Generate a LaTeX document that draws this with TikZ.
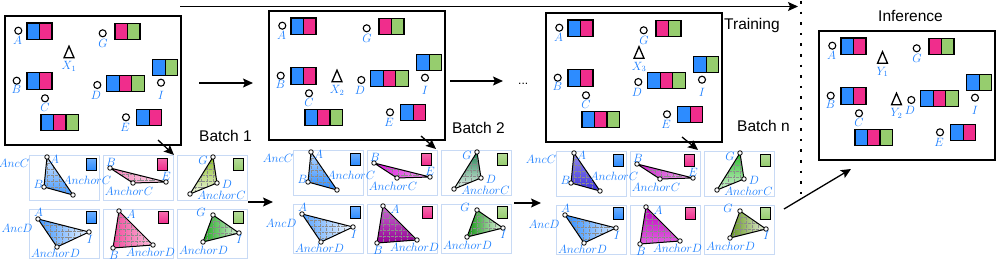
\documentclass[tikz,border=0pt]{standalone}
\usepackage{fontspec}
\newfontfamily\arialf{Liberation Sans}
\usetikzlibrary{arrows.meta}
\definecolor{cblue}{RGB}{45,140,255}
\definecolor{cpink}{RGB}{240,45,140}
\definecolor{cgreen}{RGB}{150,205,110}
\definecolor{lblue}{RGB}{25,125,255}
\definecolor{frm}{RGB}{200,218,245}
\definecolor{yg}{RGB}{140,190,40}
\definecolor{gA}{RGB}{30,170,30}
\definecolor{mgA}{RGB}{220,20,220}
\definecolor{mgB}{RGB}{240,170,240}
\definecolor{teal2}{RGB}{30,130,80}
\definecolor{puA}{RGB}{200,110,210}
\definecolor{puB}{RGB}{150,0,150}
\definecolor{gB}{RGB}{20,150,20}
\definecolor{slA}{RGB}{150,140,240}
\definecolor{slB}{RGB}{60,50,220}
\definecolor{mgC}{RGB}{200,30,200}
\definecolor{mgD}{RGB}{240,180,240}
\definecolor{gC}{RGB}{40,190,40}
\definecolor{mgE}{RGB}{190,0,190}
\definecolor{mgF}{RGB}{225,100,225}
\definecolor{ol}{RGB}{100,150,30}
\tikzset{
 panelbox/.style={draw, line width=1.3pt, minimum width=176pt, minimum height=129pt, inner sep=0pt},
 dot/.style={circle, draw, line width=1.1pt, minimum size=7pt, inner sep=0pt, fill=white},
 lbl/.style={text=lblue, inner sep=0pt, font=\fontsize{11.5}{13}\selectfont},
 tlbl/.style={text=lblue, inner sep=0pt, font=\fontsize{11.5}{13}\selectfont},
 cell/.style={draw, line width=1.2pt, minimum width=12.5pt, minimum height=16.5pt, inner sep=0pt},
 tframe/.style={draw=frm, line width=1pt, inner sep=0pt, minimum width=70pt},
 sq/.style={draw, line width=1pt, minimum width=10pt, minimum height=12pt, inner sep=0pt},
 vtx/.style={circle, draw, fill=white, line width=0.8pt, minimum size=4.5pt, inner sep=0pt},
 triedge/.style={line width=1pt, line join=round},
 gridln/.style={densely dotted, black!45, line width=0.35pt},
 arr/.style={line width=1.3pt, -{Stealth[length=10pt,width=9pt,inset=2pt]}},
 btxt/.style={font=\arialf\fontsize{15.5}{18}\selectfont, inner sep=0pt},
 marker/.style={line width=1.3pt, line join=miter},
}
\newcommand\grp[4]{\foreach \c [count=\k from 0] in {#4} {\node[cell, fill=\c] (#1\k) at ({#2+6.25+12.5*\k},{#3+8.25}) {};}}
\newcommand\pnt[6]{\node[dot] (#1) at (#2,#3) {}; \node[lbl] (#1l) at (#5,#6) {$#4$};}
\newcommand\panel[3]{%
\begin{scope}[shift={(#2,#3)}]
 \node[panelbox] (#1box) at (93,80.5) {};
 \grp{#1gA}{27}{23}{cblue,cpink}
 \grp{#1gG}{115}{23.3}{cpink,cgreen}
 \grp{#1gI}{152.7}{59.3}{cblue,cgreen}
 \grp{#1gB}{27}{72.7}{cblue,cpink}
 \grp{#1gD}{106.7}{75.3}{cblue,cpink,cgreen}
 \grp{#1gC}{41}{114.3}{cblue,cpink,cgreen}
 \grp{#1gE}{136.7}{109.3}{cblue,cpink}
 \pnt{#1A}{18.3}{30.7}{A}{17.5}{40.5}
 \pnt{#1G}{102.7}{33.3}{G}{103}{43}
 \pnt{#1B}{16.7}{80.7}{B}{16.5}{89.5}
 \pnt{#1D}{97.3}{85}{D}{96}{95.5}
 \pnt{#1I}{161}{82.7}{I}{161}{95}
 \pnt{#1C}{45}{98.3}{C}{45}{107.5}
 \pnt{#1E}{126}{117.3}{E}{125}{127.7}
\end{scope}}
\newcommand\mk[4]{%
 \coordinate (#1) at (#2,#3);
 \draw[marker] (#2-5,#3+5.8) -- (#2,#3-5.8) -- (#2+5,#3+5.8) -- cycle;
 \node[lbl] (#1l) at (#2,#3+14.5) {$#4$};}
\newcommand\tri[5]{%
 \coordinate (#1a) at #2; \coordinate (#1b) at #3; \coordinate (#1c) at #4;
 \begin{scope}
  \clip (#1a) -- (#1b) -- (#1c) -- cycle;
  \shade[#5] (#1a) -- (#1b) -- (#1c) -- cycle;
  \draw[gridln, step=6pt, shift={#2}] (-45,-45) grid (45,45);
 \end{scope}
 \draw[triedge] (#1a) -- (#1b) -- (#1c) -- cycle;
 \node[vtx] (#1va) at (#1a) {}; \node[vtx] (#1vb) at (#1b) {}; \node[vtx] (#1vc) at (#1c) {};}
\newcommand\tlab[4]{\node[tlbl] (#1) at (#2,#3) {$#4$};}
\newcommand\tgroup[9]{%
\begin{scope}[shift={(#2,#3)}]
 \node[tframe, minimum height=45pt] (#1f1) at (64,177.5) {};
 \node[tframe, minimum height=45pt] (#1f2) at (138,177.5) {};
 \node[tframe, minimum height=45pt] (#1f3) at (212,177.5) {};
 \node[tframe, minimum height=49pt] (#1f4) at (64,233.5) {};
 \node[tframe, minimum height=49pt] (#1f5) at (138,233.5) {};
 \node[tframe, minimum height=49pt] (#1f6) at (212,233.5) {};
 \tri{#1t1}{(47,157)}{(44,187)}{(73,195)}{#4}
 \tri{#1t2}{(110,168)}{(133,183)}{(166,182)}{#5}
 \tri{#1t3}{(213,157)}{(217,183)}{(190,194)}{#6}
 \tri{#1t4}{(38,219)}{(89,232)}{(57,247)}{#7}
 \tri{#1t5}{(119,211)}{(113,248)}{(153,245)}{#8}
 \tri{#1t6}{(213,215)}{(239,233)}{(203,242)}{#9}
 \node[sq, top color=cblue!70, bottom color=cblue] (#1s1) at (91,164) {};
 \node[sq, top color=cpink!70, bottom color=cpink] (#1s2) at (162.5,164) {};
 \node[sq, top color=cgreen!70, bottom color=cgreen] (#1s3) at (238,164) {};
 \node[sq, top color=cblue!70, bottom color=cblue] (#1s4) at (91,217.5) {};
 \node[sq, top color=cpink!70, bottom color=cpink] (#1s5) at (163,217.5) {};
 \node[sq, top color=cgreen!70, bottom color=cgreen] (#1s6) at (238,217.5) {};
 \tlab{#1ac}{14}{163}{AncC}
 \tlab{#1ad}{17}{228}{AncD}
 \tlab{#1l1a}{54.5}{159}{A}
 \tlab{#1l1b}{38.5}{184}{B}
 \tlab{#1l1c}{87}{180}{AnchorC}
 \tlab{#1l2b}{111}{162.5}{B}
 \tlab{#1l2e}{166}{176}{E}
 \tlab{#1l2c}{129}{191}{AnchorC}
 \tlab{#1l3g}{203}{160.5}{G}
 \tlab{#1l3d}{227}{184.5}{D}
 \tlab{#1l3c}{221.5}{195}{AnchorC}
 \tlab{#1l4a}{38.5}{212}{A}
 \tlab{#1l4i}{90}{239}{I}
 \tlab{#1l4d}{55.5}{253}{AnchorD}
 \tlab{#1l5a}{131}{214.5}{A}
 \tlab{#1l5b}{114}{255}{B}
 \tlab{#1l5d}{150.5}{252}{AnchorD}
 \tlab{#1l6g}{201}{212.5}{G}
 \tlab{#1l6i}{239.5}{239}{I}
 \tlab{#1l6d}{203.5}{250}{AnchorD}
\end{scope}}
\begin{document}
\begin{tikzpicture}[x=1pt,y=-1pt]
\useasboundingbox (0,0) rectangle (997,262);
% panels
\panel{P}{0}{0}
\panel{Q}{264}{-5}
\panel{R}{541}{-3}
\panel{S}{814}{15}
\mk{X1}{69}{52}{X_1}
\mk{X2}{337}{76}{X_2}
\mk{X3}{639}{52.5}{X_3}
\mk{Y1}{882.5}{57.5}{Y_1}
\mk{Y2}{896.5}{99}{Y_2}
% triangle groups
\tgroup{U}{0}{0}{top color=cblue!20, bottom color=cblue!90}{left color=cpink!60, right color=cpink!15}{top color=yg, bottom color=yg!15}{left color=cblue!90, right color=cblue!10}{left color=cpink!85, right color=cpink!30}{left color=gA, right color=gA!15}
\tgroup{V}{264}{-5}{top color=cblue!35, bottom color=cblue}{left color=mgA, right color=mgB}{top color=teal2, bottom color=teal2!10}{left color=cblue!80, right color=cblue!5}{top color=puA, bottom color=puB}{left color=gB, right color=gB!10}
\tgroup{W}{527}{-4}{top color=slA, bottom color=slB}{left color=mgC, right color=mgD}{top color=gC, bottom color=gC!20}{left color=cblue, right color=cblue!20}{top color=mgE, bottom color=mgF}{left color=ol, right color=ol!15}
% top arrow and divider
\coordinate (t0) at (180,6.5);
\coordinate (t1) at (798,6.5);
\draw[arr] (t0) -- (t1);
\coordinate (d0) at (801,1);
\coordinate (d1) at (801,198);
\draw[line width=2.6pt, dash pattern=on 2.6pt off 8pt] (d0) -- (d1);
% panel arrows
\coordinate (a1s) at (199,83); \coordinate (a1e) at (253,83);
\draw[arr] (a1s) -- (a1e);
\coordinate (a2s) at (450,81); \coordinate (a2e) at (503,81);
\draw[arr] (a2s) -- (a2e);
\node[btxt, anchor=base west, font=\arialf\fontsize{12}{14}\selectfont] (ell) at (518,84.5) {...};
% panel to triangles
\coordinate (b1s) at (158,140); \coordinate (b1e) at (174,155);
\draw[arr] (b1s) -- (b1e);
\coordinate (b2s) at (421,136); \coordinate (b2e) at (436,149);
\draw[arr] (b2s) -- (b2e);
\coordinate (b3s) at (682,137); \coordinate (b3e) at (698,150);
\draw[arr] (b3s) -- (b3e);
% triangle group arrows
\coordinate (c1s) at (248,202); \coordinate (c1e) at (273,202);
\draw[arr] (c1s) -- (c1e);
\coordinate (c2s) at (514,203); \coordinate (c2e) at (541,203);
\draw[arr] (c2s) -- (c2e);
\coordinate (c3s) at (784,209); \coordinate (c3e) at (851,169);
\draw[arr] (c3s) -- (c3e);
% texts
\node[btxt, anchor=base west] (bt1) at (199,141.5) {Batch 1};
\node[btxt, anchor=base west] (bt2) at (452,134) {Batch 2};
\node[btxt, anchor=base west] (btn) at (737,131.7) {Batch n};
\node[btxt, anchor=base west] (trn) at (724,30) {Training};
\node[btxt, anchor=base west] (inf) at (878,21.4) {Inference};
\end{tikzpicture}
\end{document}
